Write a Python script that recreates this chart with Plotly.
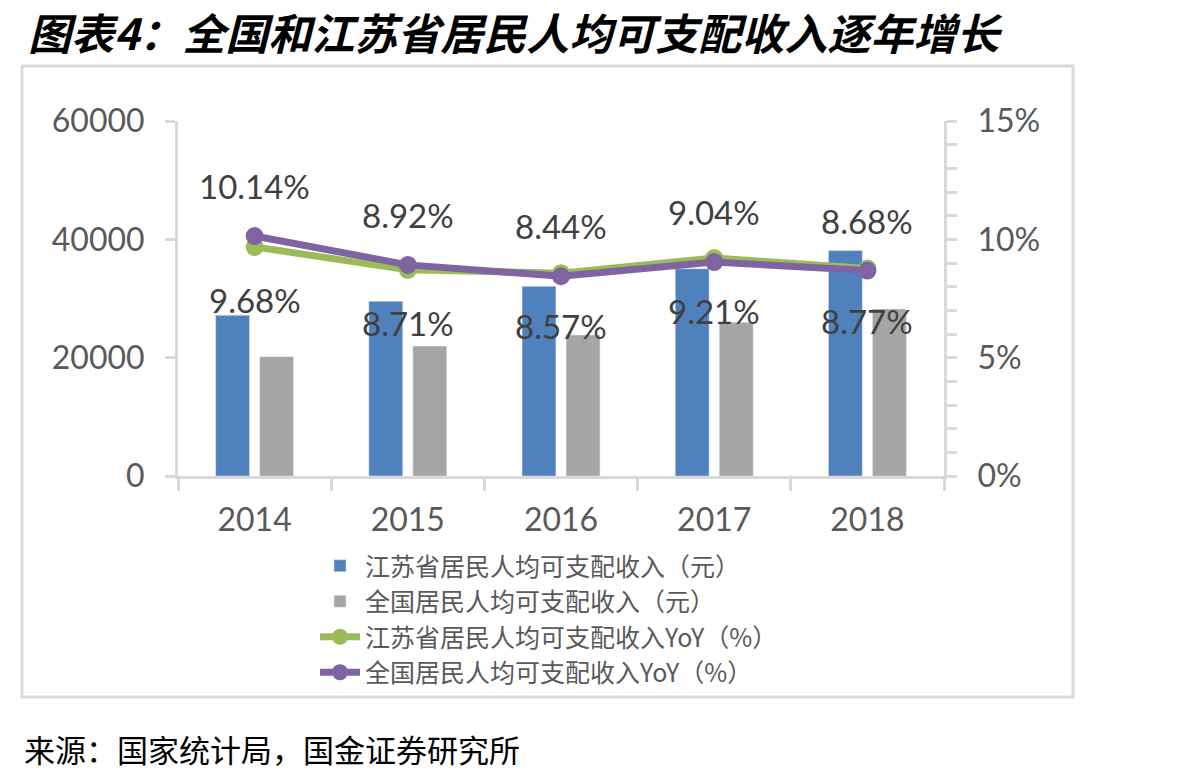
import plotly.graph_objects as go

years = ["2014", "2015", "2016", "2017", "2018"]
js_income = [27173, 29539, 32070, 35024, 38096]
cn_income = [20167, 21966, 23821, 25974, 28228]
js_yoy = [9.68, 8.71, 8.57, 9.21, 8.77]
cn_yoy = [10.14, 8.92, 8.44, 9.04, 8.68]

names = ["江苏省居民人均可支配收入（元）", "全国居民人均可支配收入（元）",
         "江苏省居民人均可支配收入YoY（%）", "全国居民人均可支配收入YoY（%）"]
title_text = "图表4：全国和江苏省居民人均可支配收入逐年增长"
source_text = "来源：国家统计局，国金证券研究所"

BLUE = "#4F81BD"
GRAY = "#A5A5A5"
GREEN = "#9BBB59"
PURPLE = "#8064A2"
AXIS = "#D9D9D9"
TXT = "#595959"
NUM = "Lato, 'Open Sans', sans-serif"
CJK = "'Noto Sans CJK SC', sans-serif"

L, R, T, B = 178, 260, 121, 302
W, H = 1204, 778
pw, ph = W - L - R, H - T - B

def px_x(x):
    return (x - L) / pw

def px_y(y):
    return (H - B - y) / ph

fig = go.Figure()
fig.add_trace(go.Bar(x=years, y=js_income, name=names[0], marker_color=BLUE))
fig.add_trace(go.Bar(x=years, y=cn_income, name=names[1], marker_color=GRAY))
fig.add_trace(go.Scatter(x=years, y=js_yoy, name=names[2], yaxis="y2",
                         mode="lines+markers", line=dict(color=GREEN, width=7),
                         marker=dict(size=18, color=GREEN)))
fig.add_trace(go.Scatter(x=years, y=cn_yoy, name=names[3], yaxis="y2",
                         mode="lines+markers", line=dict(color=PURPLE, width=7),
                         marker=dict(size=18, color=PURPLE)))

ann = []
for i, v in enumerate(cn_yoy):
    ann.append(dict(x=i, y=v, xref="x", yref="y2", text=f"{v:.2f}%", showarrow=False,
                    yshift=50, font=dict(family=NUM, size=33, color="#404040")))
for i, v in enumerate(js_yoy):
    ann.append(dict(x=i, y=v, xref="x", yref="y2", text=f"{v:.2f}%", showarrow=False,
                    yshift=-53, font=dict(family=NUM, size=33, color="#404040")))
ann.append(dict(x=px_x(26), y=px_y(31), xref="paper", yref="paper",
                xanchor="left", yanchor="middle", showarrow=False,
                text=f"<b><i>{title_text}</i></b>",
                font=dict(family=CJK, size=43, color="#000000")))
ann.append(dict(x=px_x(22), y=px_y(748), xref="paper", yref="paper",
                xanchor="left", yanchor="middle", showarrow=False,
                text=source_text,
                font=dict(family=CJK, size=31, color="#000000")))

fig.update_layout(
    width=W, height=H,
    margin=dict(l=L, r=R, t=T, b=B, autoexpand=False),
    paper_bgcolor="white", plot_bgcolor="white",
    barmode="group", bargap=0.425, bargroupgap=0.23,
    showlegend=True,
    xaxis=dict(type="category", range=[-0.5, 4.5], showline=True, linecolor=AXIS, linewidth=3,
               ticks="outside", tickson="boundaries", ticklen=12, tickcolor=AXIS, tickwidth=3,
               tickfont=dict(family=NUM, size=32, color=TXT), ticklabelstandoff=14,
               tickangle=0, showgrid=False, zeroline=False),
    yaxis=dict(range=[0, 60000], dtick=20000, showline=True, linecolor=AXIS, linewidth=3,
               ticks="outside", ticklen=10, tickcolor=AXIS, tickwidth=3,
               tickfont=dict(family=NUM, size=32, color=TXT), ticklabelstandoff=14,
               showgrid=False, zeroline=False, tickformat="d"),
    yaxis2=dict(range=[0, 15], dtick=5, overlaying="y", side="right", showline=True,
                linecolor=AXIS, linewidth=3, ticks="outside", ticklen=10, tickcolor=AXIS,
                tickwidth=3, ticksuffix="%",
                minor=dict(dtick=1, ticks="outside", ticklen=10, tickcolor=AXIS, tickwidth=3),
                tickfont=dict(family=NUM, size=32, color=TXT), ticklabelstandoff=14,
                showgrid=False, zeroline=False),
    legend=dict(orientation="v", x=px_x(315), y=px_y(543), xanchor="left", yanchor="top",
                font=dict(family=CJK, size=25, color=TXT), bgcolor="rgba(0,0,0,0)",
                traceorder="normal", itemwidth=40, tracegroupgap=0),
    annotations=ann,
    shapes=[dict(type="rect", xref="paper", yref="paper",
                 x0=px_x(22), x1=px_x(1073), y0=px_y(697), y1=px_y(66),
                 line=dict(color=AXIS, width=3), fillcolor="rgba(0,0,0,0)", layer="below")],
)

fig.write_html("out.html")
